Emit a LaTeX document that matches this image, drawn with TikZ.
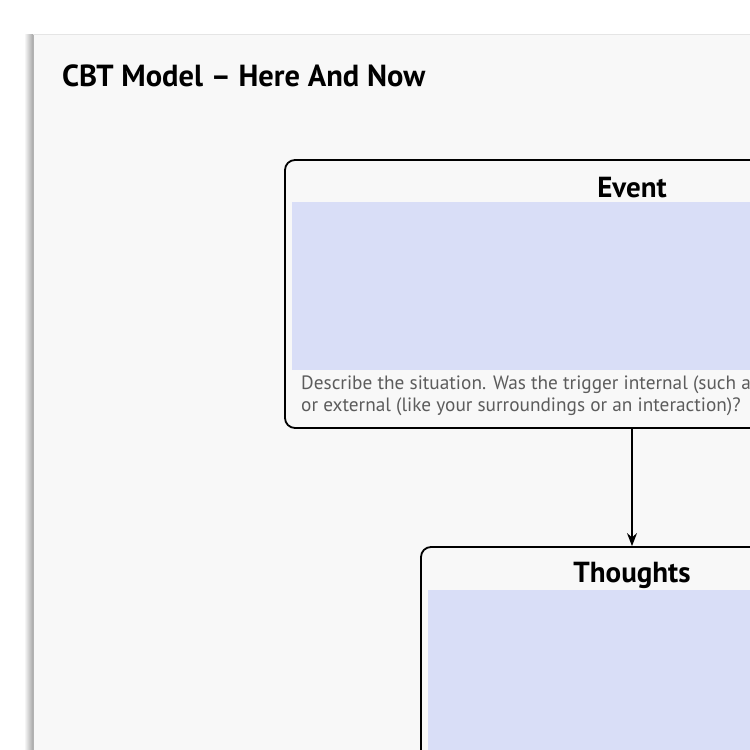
\documentclass[tikz,border=0pt]{standalone}
\usepackage{fontspec}
\setmainfont{PT Sans}
\usetikzlibrary{arrows.meta,positioning}
\definecolor{pagegrey}{rgb}{0.973,0.973,0.973}
\definecolor{pastelblue}{rgb}{0.85,0.87,0.97}
\definecolor{hintgrey}{rgb}{0.36,0.36,0.36}
\tikzset{
  caja/.style={
    draw=black,
    line width=1.8pt,
    rounded corners=10pt,
    fill=pagegrey
  },
  titulo/.style={
    font=\fontsize{29}{32}\selectfont\bfseries,
    anchor=base
  },
  zona/.style={
    fill=pastelblue
  },
  ayuda/.style={
    font=\fontsize{19.3}{22}\selectfont,
    text=hintgrey,
    align=left,
    anchor=north west,
    inner sep=0pt
  },
  arrow/.style={
    -{Stealth[length=13pt,width=10pt]},
    line width=1.5pt
  }
}
\begin{document}
\begin{tikzpicture}[x=1pt,y=-1pt]
\useasboundingbox (0,0) rectangle (750,750);
\clip (0,0) rectangle (750,750);
\fill[white] (0,0) rectangle (750,750);
% page and its shadow
\shade[left color=white,right color=black!35] (24,34) rectangle (33,760);
\fill[pagegrey] (33,34) rectangle (760,760);
\draw[black!30,line width=1pt] (33.5,34) -- (33.5,760);
\draw[black!10,line width=.6pt] (33,34) -- (760,34);
\node[font=\fontsize{30.5}{34}\selectfont\bfseries,anchor=base west,inner sep=0pt] (head) at (62,86) {CBT Model – Here And Now};

% event
\node[caja,minimum width=694pt,minimum height=268pt] (event) at (632,294) {};
\node[titulo] (eventtit) at (632,197) {Event};
\coordinate (ea) at (292,202);
\coordinate (eb) at (972,370);
\fill[zona] (ea) rectangle (eb);
\node[ayuda] (eventtxt) at (301,376) {Describe the situation. Was the trigger internal (such as\\or external (like your surroundings or an interaction)?};

% thoughts
\node[caja,minimum width=422pt,minimum height=300pt] (thoughts) at (632,697) {};
\node[titulo] (thoughtstit) at (632,582) {Thoughts};
\coordinate (ta) at (428,590);
\coordinate (tb) at (836,800);
\fill[zona] (ta) rectangle (tb);

\draw[arrow] (event.south) -- (thoughts.north);
\end{tikzpicture}
\end{document}
